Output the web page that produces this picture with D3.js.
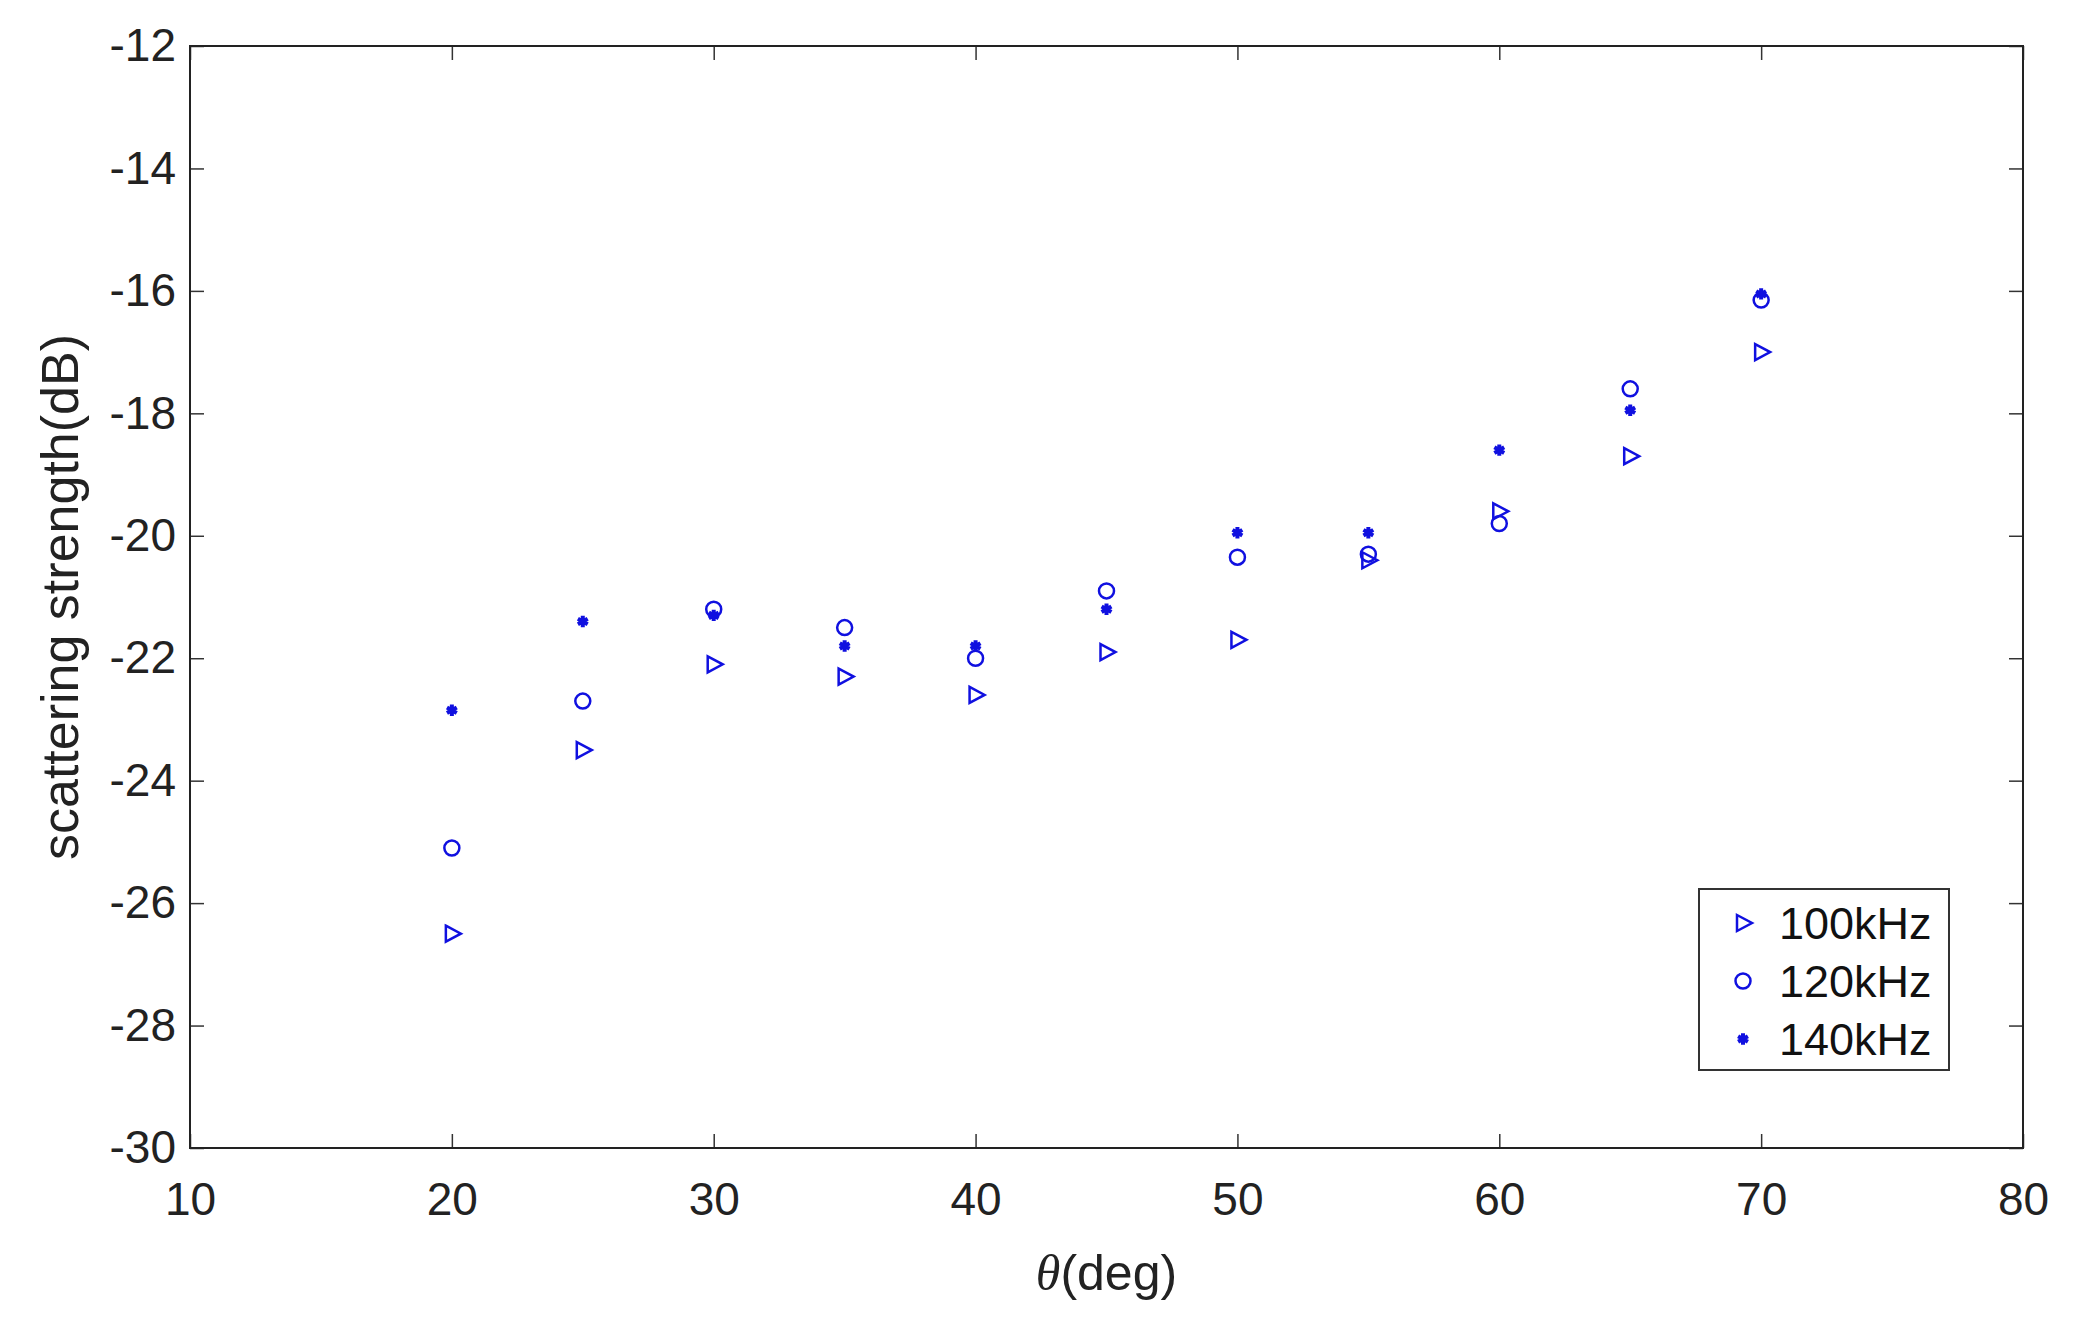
<!DOCTYPE html>
<html><head><meta charset="utf-8">
<script src="https://cdn.jsdelivr.net/npm/d3@7"></script>
<style>body{margin:0;background:#fff}text{font-family:"Liberation Sans",Arial,sans-serif}</style>
</head><body><svg id="c" width="2073" height="1326"></svg>
<script>
const angles = [20, 25, 30, 35, 40, 45, 50, 55, 60, 65, 70]
const s100 = [-26.5, -23.5, -22.1, -22.3, -22.6, -21.9, -21.7, -20.4, -19.6, -18.7, -17.0]
const s120 = [-25.1, -22.7, -21.2, -21.5, -22.0, -20.9, -20.35, -20.3, -19.8, -17.6, -16.15]
const s140 = [-22.85, -21.4, -21.3, -21.8, -21.8, -21.2, -19.95, -19.95, -18.6, -17.95, -16.05]
const xTicks = [10, 20, 30, 40, 50, 60, 70, 80]
const yTicks = [-30, -28, -26, -24, -22, -20, -18, -16, -14, -12]
const labels = ["100kHz", "120kHz", "140kHz"]

const L = 190, R = 2023, T = 46, B = 1148
const svg = d3.select("#c")
const x = d3.scaleLinear().domain([10, 80]).range([L, R])
const y = d3.scaleLinear().domain([-30, -12]).range([B, T])
const blue = "#1010e0"
const fmt = d => String(d)

const ax = (g, axis) => g.call(axis).call(g => g.select(".domain").remove())
  .call(g => g.selectAll("text").attr("font-size", 46).attr("fill", "#222"))
  .call(g => g.selectAll("line").attr("stroke", "#333").attr("stroke-width", 1.5))
svg.append("g").attr("transform", `translate(0,${B})`)
  .call(g => ax(g, d3.axisBottom(x).tickValues(xTicks).tickSize(-14).tickPadding(34).tickFormat(fmt)))
svg.append("g").attr("transform", `translate(0,${T})`)
  .call(g => ax(g, d3.axisTop(x).tickValues(xTicks).tickSize(-14).tickFormat("")))
svg.append("g").attr("transform", `translate(${L},0)`)
  .call(g => ax(g, d3.axisLeft(y).tickValues(yTicks).tickSize(-14).tickPadding(14).tickFormat(fmt)))
svg.append("g").attr("transform", `translate(${R},0)`)
  .call(g => ax(g, d3.axisRight(y).tickValues(yTicks).tickSize(-14).tickFormat("")))
svg.append("rect").attr("x", L).attr("y", T).attr("width", R - L).attr("height", B - T)
  .attr("fill", "none").attr("stroke", "#222").attr("stroke-width", 2)

const tri = "M-6,-8 L9,0 L-6,8 Z"
const star = d3.symbol().type(d3.symbolAsterisk).size(90)
function marker(g, k) {
  if (k === 0) g.append("path").attr("d", tri).attr("fill", "none").attr("stroke", blue).attr("stroke-width", 2.5)
  else if (k === 1) g.append("circle").attr("r", 7.5).attr("fill", "none").attr("stroke", blue).attr("stroke-width", 2.5)
  else g.append("path").attr("d", star()).attr("fill", "none").attr("stroke", blue).attr("stroke-width", 4)
}
;[s100, s120, s140].forEach((s, k) => {
  s.forEach((v, i) => {
    const g = svg.append("g").attr("transform", `translate(${x(angles[i])},${y(v)})`)
    marker(g, k)
  })
})

// legend
const lg = svg.append("g").attr("transform", "translate(1699,889)")
lg.append("rect").attr("width", 250).attr("height", 181).attr("fill", "#fff").attr("stroke", "#333").attr("stroke-width", 2)
labels.forEach((t, k) => {
  const row = lg.append("g").attr("transform", `translate(44,${34 + k * 58})`)
  marker(row, k)
  row.append("text").attr("x", 36).attr("y", 16).attr("font-size", 45).attr("fill", "#111").text(t)
})

svg.append("text").attr("x", (L + R) / 2 + 0).attr("y", 1290).attr("text-anchor", "middle")
  .attr("font-size", 50).attr("fill", "#222")
  .html('<tspan font-style="italic" font-family="Liberation Serif">θ</tspan>(deg)')
svg.append("text").attr("transform", `translate(78,${(T + B) / 2}) rotate(-90)`)
  .attr("text-anchor", "middle").attr("font-size", 52).attr("fill", "#222").text("scattering strength(dB)")
</script></body></html>
